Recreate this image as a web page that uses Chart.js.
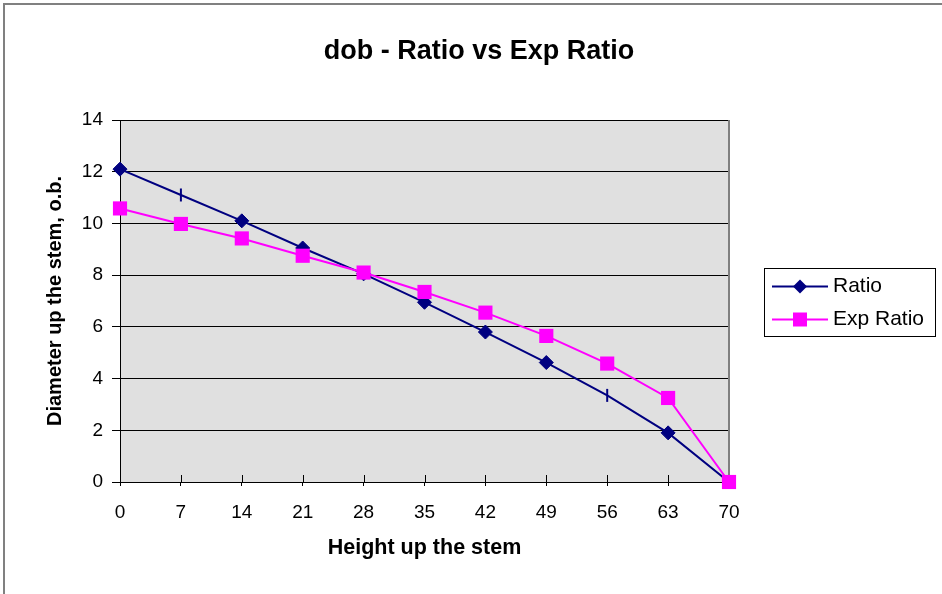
<!DOCTYPE html>
<html>
<head>
<meta charset="utf-8">
<script src="https://cdn.jsdelivr.net/npm/chart.js@4/dist/chart.umd.min.js"></script>
<style>
  html, body { margin: 0; padding: 0; background: #fff; }
  #wrap { width: 942px; height: 594px; }
</style>
</head>
<body>
<div id="wrap"><canvas id="c" width="942" height="594"></canvas></div>
<script>
// Heights up the stem and the two diameter series
const heights = [0, 7, 14, 21, 28, 35, 42, 49, 56, 63, 70];
const ratio = [12.1, 11.1, 10.1, 9.05, 8.05, 6.95, 5.8, 4.62, 3.35, 1.9, 0];
const expRatio = [10.58, 9.98, 9.42, 8.75, 8.1, 7.35, 6.55, 5.65, 4.58, 3.25, 0];
const seriesNames = ['Ratio', 'Exp Ratio'];
const yTicks = [0, 2, 4, 6, 8, 10, 12, 14];

const FONT = "'Liberation Sans', Arial, sans-serif";
const NAVY = '#000080';
const MAGENTA = '#FF00FF';

// Ratio points at 7 and 56 carry a short dash marker instead of a diamond
const ratioStyles = heights.map(h => (h === 7 || h === 56) ? 'line' : 'rectRot');
const ratioRot = heights.map(h => (h === 7 || h === 56) ? 90 : 0);
const ratioRadius = heights.map(h => (h === 7 || h === 56) ? 6.5 : 7);
const ratioBorderW = heights.map(h => (h === 7 || h === 56) ? 2 : 1);

const framePlugin = {
  id: 'frame',
  beforeDraw(chart) {
    const { ctx, chartArea: a } = chart;
    ctx.save();
    ctx.fillStyle = '#fff';
    ctx.fillRect(0, 0, chart.width, chart.height);
    ctx.strokeStyle = '#808080';
    ctx.lineWidth = 2;
    ctx.strokeRect(4, 4, chart.width + 20, chart.height + 20);
    ctx.fillStyle = '#E0E0E0';
    ctx.fillRect(a.left, a.top, a.right - a.left, a.bottom - a.top);
    ctx.restore();
  },
  beforeDatasetsDraw(chart) {
    const { ctx, chartArea: a, scales } = chart;
    ctx.save();
    // right edge of the plot area
    ctx.strokeStyle = '#808080';
    ctx.lineWidth = 2;
    ctx.beginPath();
    ctx.moveTo(a.right, a.top);
    ctx.lineTo(a.right, a.bottom);
    ctx.stroke();
    // upper half of the crossing tick marks on the x axis
    ctx.strokeStyle = '#000';
    ctx.lineWidth = 1;
    scales.x.ticks.forEach(t => {
      const px = Math.round(scales.x.getPixelForValue(t.value)) + 0.5;
      ctx.beginPath();
      ctx.moveTo(px, a.bottom - 7);
      ctx.lineTo(px, a.bottom);
      ctx.stroke();
    });
    ctx.restore();
  },
  afterDraw(chart) {
    const { ctx } = chart;
    ctx.save();
    // chart title
    ctx.fillStyle = '#000';
    ctx.font = 'bold 27px ' + FONT;
    ctx.textAlign = 'center';
    ctx.textBaseline = 'middle';
    ctx.fillText('dob - Ratio vs Exp Ratio', 479, 52);

    // legend box
    const bx = 764.5, by = 268.5, bw = 171, bh = 68;
    ctx.strokeStyle = '#000';
    ctx.lineWidth = 1;
    ctx.strokeRect(bx, by, bw, bh);
    const rows = [
      { name: seriesNames[0], color: NAVY, y: 286.5, marker: 'diamond' },
      { name: seriesNames[1], color: MAGENTA, y: 319.5, marker: 'square' }
    ];
    rows.forEach(r => {
      ctx.strokeStyle = r.color;
      ctx.lineWidth = 2;
      ctx.beginPath();
      ctx.moveTo(772, r.y);
      ctx.lineTo(828, r.y);
      ctx.stroke();
      ctx.fillStyle = r.color;
      ctx.beginPath();
      if (r.marker === 'diamond') {
        ctx.moveTo(800, r.y - 7);
        ctx.lineTo(807, r.y);
        ctx.lineTo(800, r.y + 7);
        ctx.lineTo(793, r.y);
        ctx.closePath();
      } else {
        ctx.rect(793, r.y - 7, 14, 14);
      }
      ctx.fill();
      ctx.fillStyle = '#000';
      ctx.font = '21px ' + FONT;
      ctx.textAlign = 'left';
      ctx.textBaseline = 'middle';
      ctx.fillText(r.name, 833, r.y);
    });
    ctx.restore();
  }
};

new Chart(document.getElementById('c'), {
  type: 'line',
  data: {
    datasets: [
      {
        label: seriesNames[0],
        data: heights.map((h, i) => ({ x: h, y: ratio[i] })),
        borderColor: NAVY,
        backgroundColor: NAVY,
        borderWidth: 2,
        pointStyle: ratioStyles,
        pointRotation: ratioRot,
        pointRadius: ratioRadius,
        pointBorderWidth: ratioBorderW,
        pointBorderColor: NAVY,
        pointBackgroundColor: NAVY,
        tension: 0,
        clip: false,
        order: 2
      },
      {
        label: seriesNames[1],
        data: heights.map((h, i) => ({ x: h, y: expRatio[i] })),
        borderColor: MAGENTA,
        backgroundColor: MAGENTA,
        borderWidth: 2,
        pointStyle: 'rect',
        pointRadius: 10,
        pointBorderWidth: 0,
        pointBackgroundColor: MAGENTA,
        tension: 0,
        clip: false,
        order: 1
      }
    ]
  },
  options: {
    responsive: false,
    animation: false,
    layout: { padding: { top: 120, right: 213, left: 0, bottom: 0 } },
    plugins: {
      legend: { display: false },
      title: { display: false },
      tooltip: { enabled: false }
    },
    scales: {
      x: {
        type: 'linear',
        min: 0,
        max: 70,
        afterBuildTicks(scale) { scale.ticks = heights.map(v => ({ value: v })); },
        ticks: { color: '#000', font: { family: FONT, size: 19 }, padding: 15, maxRotation: 0 },
        grid: { drawOnChartArea: false, drawTicks: true, tickLength: 4, color: '#000', lineWidth: 1 },
        border: { color: '#000', width: 1 },
        title: {
          display: true,
          text: 'Height up the stem',
          color: '#000',
          font: { family: FONT, size: 21.5, weight: 'bold' },
          padding: { top: 0, bottom: 33 }
        },
        afterFit(scale) { scale.height = 112; }
      },
      y: {
        type: 'linear',
        min: 0,
        max: 14,
        afterBuildTicks(scale) { scale.ticks = yTicks.map(v => ({ value: v })); },
        ticks: { color: '#000', font: { family: FONT, size: 19 }, padding: 9 },
        grid: { color: '#000', lineWidth: 1, drawTicks: true, tickLength: 8 },
        border: { color: '#000', width: 1 },
        title: {
          display: true,
          text: 'Diameter up the stem, o.b.',
          color: '#000',
          font: { family: FONT, size: 20, weight: 'bold' },
          padding: { top: 43, bottom: 0 }
        },
        afterFit(scale) { scale.width = 120; }
      }
    }
  },
  plugins: [framePlugin]
});
</script>
</body>
</html>
